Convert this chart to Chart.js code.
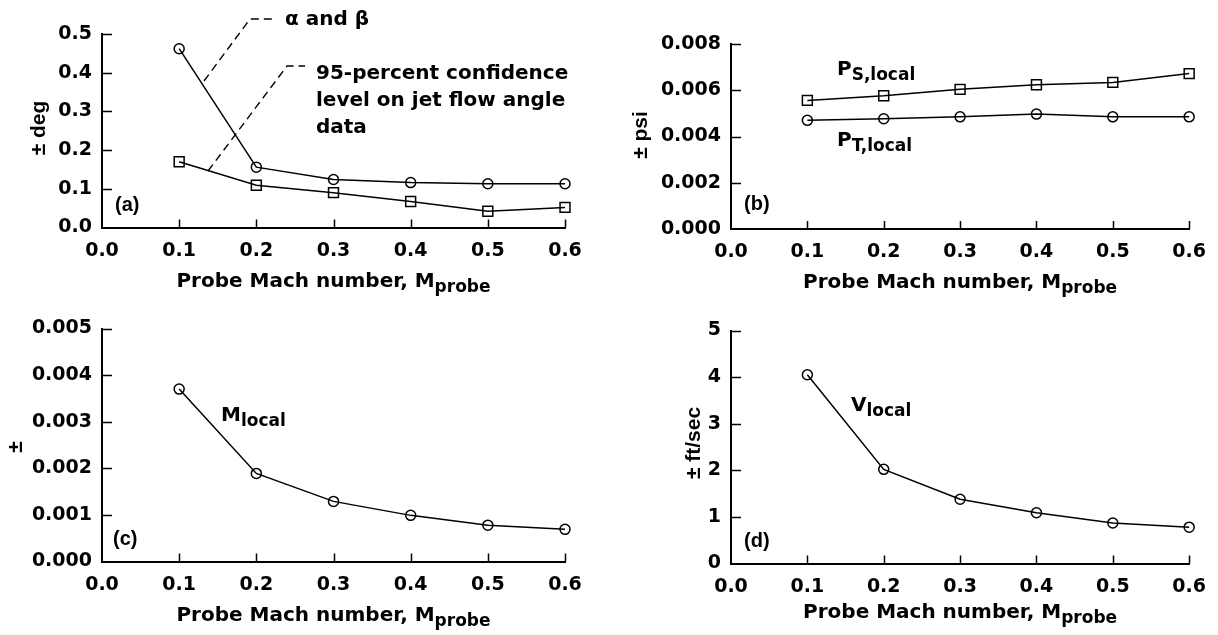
<!DOCTYPE html>
<html>
<head>
<meta charset="utf-8">
<script src="https://cdn.jsdelivr.net/npm/chart.js@4.4.1/dist/chart.umd.min.js"></script>
<style>
  html, body { margin: 0; padding: 0; background: #fff; }
  #wrap { position: relative; width: 1218px; height: 635px; overflow: hidden; }
  #wrap canvas { position: absolute; left: 0; top: 0; }
</style>
</head>
<body>
<div id="wrap">
  <canvas id="chartA" width="1218" height="635"></canvas>
  <canvas id="chartB" width="1218" height="635"></canvas>
  <canvas id="chartC" width="1218" height="635"></canvas>
  <canvas id="chartD" width="1218" height="635"></canvas>
</div>
<script>
// probe Mach numbers (shared x values)
const machProbe = [0.1, 0.2, 0.3, 0.4, 0.5, 0.6];
const xTicks = [0, 0.1, 0.2, 0.3, 0.4, 0.5, 0.6];

// (a) flow angle uncertainty, deg
const angleCircles = [0.462, 0.156, 0.124, 0.116, 0.113, 0.113];
const angleSquares = [0.170, 0.109, 0.090, 0.067, 0.042, 0.052];
const yTicksA = [0, 0.1, 0.2, 0.3, 0.4, 0.5];

// (b) pressure uncertainty, psi
const pressureStatic = [0.00556, 0.00576, 0.00604, 0.00624, 0.00634, 0.00672];
const pressureTotal = [0.00470, 0.00477, 0.00485, 0.00497, 0.00485, 0.00485];
const yTicksB = [0, 0.002, 0.004, 0.006, 0.008];

// (c) local Mach number uncertainty
const machLocal = [0.00370, 0.00189, 0.00129, 0.00099, 0.00078, 0.00069];
const yTicksC = [0, 0.001, 0.002, 0.003, 0.004, 0.005];

// (d) local velocity uncertainty, ft/sec
const velocityLocal = [4.05, 2.02, 1.38, 1.09, 0.87, 0.78];
const yTicksD = [0, 1, 2, 3, 4, 5];

const W = 1218, H = 635;
const DEJAVU = '"DejaVu Sans", sans-serif';
const LIB = '"Liberation Sans", Arial, sans-serif';
const INK = '#000';

function bold(size, fam) {
    return 'bold ' + size + 'px ' + (fam || DEJAVU);
}

// text with a lowered subscript, y is the baseline of the main text
function subText(ctx, main, sub, x, y, size, subSize, align) {
    ctx.font = bold(size);
    const w1 = ctx.measureText(main).width;
    ctx.font = bold(subSize);
    const w2 = ctx.measureText(sub).width;
    let x0 = align === 'center' ? x - (w1 + w2) / 2 : x;
    ctx.textAlign = 'left';
    ctx.textBaseline = 'alphabetic';
    ctx.font = bold(size);
    ctx.fillText(main, x0, y);
    ctx.font = bold(subSize);
    ctx.fillText(sub, x0 + w1, y + 5);
}

function plainText(ctx, text, x, y, size, fam) {
    ctx.font = bold(size, fam);
    ctx.textAlign = 'left';
    ctx.textBaseline = 'alphabetic';
    ctx.fillText(text, x, y);
}

function rotText(ctx, text, x, y, size) {
    ctx.save();
    ctx.translate(x, y);
    ctx.rotate(-Math.PI / 2);
    ctx.font = bold(size, LIB);
    ctx.textAlign = 'center';
    ctx.textBaseline = 'middle';
    ctx.fillText(text, 0, 0);
    ctx.restore();
}

function dashed(ctx, pts) {
    ctx.save();
    ctx.setLineDash([8, 5]);
    ctx.lineWidth = 1.4;
    ctx.strokeStyle = INK;
    ctx.beginPath();
    ctx.moveTo(pts[0][0], pts[0][1]);
    for (let i = 1; i < pts.length; i++) ctx.lineTo(pts[i][0], pts[i][1]);
    ctx.stroke();
    ctx.restore();
}

// inward tick marks, placed through the chart's own scales
const inwardTicks = {
    id: 'inwardTicks',
    afterDraw(chart) {
        const ctx = chart.ctx;
        const xs = chart.scales.x, ys = chart.scales.y;
        const area = chart.chartArea;
        ctx.save();
        ctx.strokeStyle = INK;
        ctx.lineWidth = 1.5;
        ctx.beginPath();
        xs.ticks.forEach(t => {
            if (t.value === 0) return;
            const px = Math.round(xs.getPixelForValue(t.value)) + 0.5;
            ctx.moveTo(px, area.bottom);
            ctx.lineTo(px, area.bottom - 8);
        });
        ys.ticks.forEach(t => {
            if (t.value === 0) return;
            const py = Math.round(ys.getPixelForValue(t.value)) + 0.5;
            ctx.moveTo(area.left, py);
            ctx.lineTo(area.left + 10, py);
        });
        ctx.stroke();
        ctx.restore();
    }
};

function makePanel(id, box, yTicks, decimals, series, decorate) {
    const yAxisW = 90, xAxisH = 60;
    const datasets = series.map(s => ({
        data: machProbe.map((m, i) => ({ x: m, y: s.values[i] })),
        borderColor: INK,
        borderWidth: 1.5,
        pointStyle: s.style,
        pointRadius: s.style === 'rect' ? 7 : 5,
        pointBorderWidth: 1.5,
        pointBorderColor: INK,
        pointBackgroundColor: 'rgba(255,255,255,0)',
        tension: 0,
        fill: false,
        clip: false
    }));

    return new Chart(document.getElementById(id), {
        type: 'line',
        data: { datasets: datasets },
        options: {
            responsive: false,
            animation: false,
            devicePixelRatio: 1,
            events: [],
            layout: {
                padding: {
                    left: box.left - yAxisW,
                    top: box.top,
                    right: W - box.right,
                    bottom: H - box.bottom - xAxisH
                }
            },
            scales: {
                x: {
                    type: 'linear',
                    min: 0,
                    max: 0.6,
                    afterBuildTicks: s => { s.ticks = xTicks.map(v => ({ value: v })); },
                    afterFit: s => { s.height = xAxisH; },
                    grid: { display: false, drawTicks: false },
                    border: { display: true, color: INK, width: 2 },
                    ticks: {
                        color: INK,
                        padding: 12,
                        maxRotation: 0,
                        font: { family: DEJAVU, size: 19, weight: 'bold' },
                        callback: v => v.toFixed(1)
                    }
                },
                y: {
                    type: 'linear',
                    min: yTicks[0],
                    max: yTicks[yTicks.length - 1],
                    afterBuildTicks: s => { s.ticks = yTicks.map(v => ({ value: v })); },
                    afterFit: s => { s.width = yAxisW; },
                    grid: { display: false, drawTicks: false },
                    border: { display: true, color: INK, width: 2 },
                    ticks: {
                        color: INK,
                        padding: 10,
                        font: { family: DEJAVU, size: 19, weight: 'bold' },
                        callback: v => v.toFixed(decimals)
                    }
                }
            },
            plugins: {
                legend: { display: false },
                tooltip: { enabled: false }
            }
        },
        plugins: [inwardTicks, {
            id: 'panelText',
            afterDraw(chart) {
                const ctx = chart.ctx;
                ctx.save();
                ctx.fillStyle = INK;
                decorate(ctx, chart);
                ctx.restore();
            }
        }]
    });
}

// (a)
makePanel('chartA', { left: 102, top: 34, right: 565, bottom: 227.5 }, yTicksA, 1, [
    { values: angleCircles, style: 'circle' },
    { values: angleSquares, style: 'rect' }
], (ctx, chart) => {
    const a = chart.chartArea;
    subText(ctx, 'Probe Mach number, M', 'probe', (a.left + a.right) / 2, 287, 20, 17, 'center');
    rotText(ctx, '\u00b1 deg', 39, 128, 21);
    plainText(ctx, '(a)', 115, 211, 20, LIB);
    dashed(ctx, [[204, 81], [250, 19], [272, 19]]);
    plainText(ctx, '\u03b1 and \u03b2', 285, 25, 20);
    dashed(ctx, [[208, 171], [287, 66], [305, 66]]);
    plainText(ctx, '95-percent confidence', 316, 79, 20);
    plainText(ctx, 'level on jet flow angle', 316, 106, 20);
    plainText(ctx, 'data', 316, 133, 20);
});

// (b)
makePanel('chartB', { left: 731, top: 44, right: 1194, bottom: 229 }, yTicksB, 3, [
    { values: pressureStatic, style: 'rect' },
    { values: pressureTotal, style: 'circle' }
], (ctx, chart) => {
    const a = chart.chartArea;
    subText(ctx, 'Probe Mach number, M', 'probe', (a.left + a.right) / 2, 288, 20, 17, 'center');
    rotText(ctx, '\u00b1 psi', 641, 135, 21);
    plainText(ctx, '(b)', 744, 210, 20, LIB);
    subText(ctx, 'P', 'S,local', 837, 75, 20, 17, 'left');
    subText(ctx, 'P', 'T,local', 837, 146, 20, 17, 'left');
});

// (c)
makePanel('chartC', { left: 102, top: 328.5, right: 565, bottom: 561.5 }, yTicksC, 3, [
    { values: machLocal, style: 'circle' }
], (ctx, chart) => {
    const a = chart.chartArea;
    subText(ctx, 'Probe Mach number, M', 'probe', (a.left + a.right) / 2, 621, 20, 17, 'center');
    rotText(ctx, '\u00b1', 16, 447, 21);
    plainText(ctx, '(c)', 113, 545, 20, LIB);
    subText(ctx, 'M', 'local', 221, 421, 20, 17, 'left');
});

// (d)
makePanel('chartD', { left: 731, top: 330.5, right: 1194, bottom: 563.5 }, yTicksD, 0, [
    { values: velocityLocal, style: 'circle' }
], (ctx, chart) => {
    const a = chart.chartArea;
    subText(ctx, 'Probe Mach number, M', 'probe', (a.left + a.right) / 2, 618, 20, 17, 'center');
    rotText(ctx, '\u00b1 ft/sec', 694, 443, 21);
    plainText(ctx, '(d)', 744, 547, 20, LIB);
    subText(ctx, 'V', 'local', 851, 411, 20, 17, 'left');
});
</script>
</body>
</html>
